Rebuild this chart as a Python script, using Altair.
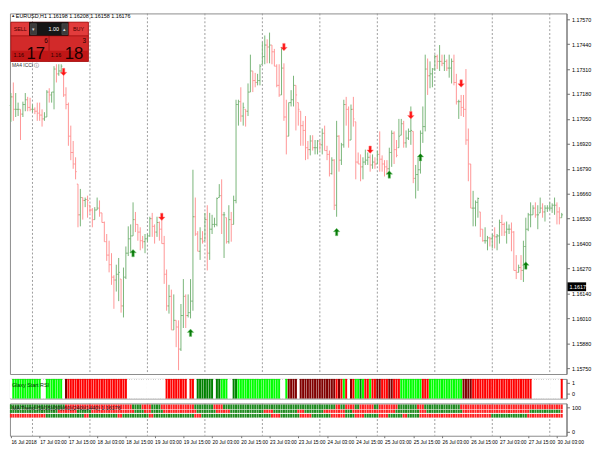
import altair as alt
import pandas as pd

FONT = "Liberation Sans"
NARROW = "Liberation Sans Narrow, Liberation Sans"

# ---------------- EURUSD H1 bars, prices in pips above 1.1500 ----------------
high_pips = [
    218.5, 224, 218.5, 213.5, 210, 214, 218.5, 216.5, 216, 212.5, 211, 213.5, 213.5, 210, 208.5, 220, 221, 219, 232.5, 233.5,
    233.5, 233.5, 230, 221.5, 213.5, 201.5, 193.5, 185,
    171, 168.5, 164, 164, 165, 160, 158.5, 159, 164, 162.5, 156, 151.5, 145, 141.5, 135, 123.5, 129, 132.5, 121.5, 127.5,
    138.5, 149, 150, 161.5, 156.5, 150, 148.5, 144, 145, 145,
    154, 156, 150, 154, 151.5, 152.5, 144, 126.5, 118.5, 116, 113.5, 100, 100, 108.5, 121.5, 113.5, 113.5, 121.5, 178.5, 164,
    146.5, 148.5, 146.5, 156, 160, 156, 155, 153.5, 164, 171, 173.5, 156.5, 153.5, 160, 156.5, 165, 215, 215, 221.5, 213.5,
    210, 223.5, 238.5, 230, 229, 228.5, 233.5, 245, 248.5, 246.5, 250, 243.5, 241.5, 233.5, 233.5, 242.5, 234, 215, 213.5, 220,
    227.5, 222.5, 213.5, 209, 204, 206.5, 193.5, 196.5, 196.5, 194, 194, 193.5, 200, 201.5, 191, 188.5, 185, 184, 204, 196.5,
    192.5, 215, 216.5, 211.5, 212.5, 216.5, 203.5, 187.5, 186.5, 185, 189, 187.5, 186.5, 186.5, 185, 188.5, 198.5, 186, 183.5, 183.5,
    190, 199, 198.5, 194, 205, 205, 204, 199, 200, 211.5, 198.5, 181, 185, 199, 211.5, 238.5,
    236.5, 235, 231.5, 238.5, 238.5, 243.5, 238.5, 238.5, 236, 238.5, 236.5, 238.5, 228.5, 215, 217.5, 217.5, 231, 200, 181.5, 167.5,
    162.5, 164, 156.5, 147.5, 148.5, 144, 143.5, 145, 148.5, 145, 152.5, 155, 151, 151.5, 150, 151, 146.5, 134, 129, 134,
    141.5, 153.5, 156, 161.5, 160, 161.5, 160, 164, 161, 160, 160, 161.5, 161, 164, 161.5, 159, 156,
]
low_pips = [
    203.5, 204, 206, 206.5, 194, 206, 209, 209, 209, 208.5, 207.5, 204, 204, 201, 204, 206, 213.5, 213.5, 210, 224,
    227.5, 228.5, 216.5, 210, 191, 183.5, 179, 173.5,
    148.5, 149, 152.5, 159, 153.5, 156, 148.5, 152.5, 157.5, 154, 151, 141, 131, 125, 118.5, 106, 115, 110, 104, 101.5,
    121.5, 133.5, 135, 144, 146, 141.5, 136.5, 137.5, 135, 141,
    143.5, 143.5, 140, 143.5, 141.5, 140, 119, 105, 103.5, 95, 95, 86, 74, 84, 96, 96, 101.5, 101, 105, 144,
    136, 131.5, 140, 141.5, 126, 131.5, 145, 148.5, 149, 164, 145, 132.5, 140, 140, 141, 150, 161, 201.5, 203.5, 201.5,
    201, 206.5, 219, 219, 221.5, 222.5, 222.5, 233.5, 233.5, 234, 234, 233.5, 232.5, 221.5, 216.5, 217.5, 204, 186.5, 196, 211.5,
    211.5, 199, 201.5, 191, 191, 183.5, 184, 186, 188.5, 186.5, 186.5, 188.5, 186.5, 188.5, 183.5, 175, 176, 157.5, 154, 177.5,
    181, 190, 201.5, 190, 194, 201, 173.5, 181.5, 172.5, 173.5, 181, 181, 177.5, 179, 179, 181.5, 177.5, 177.5, 175, 176,
    176.5, 180, 181.5, 185, 190, 196.5, 190, 190, 194, 191.5, 171.5, 163.5, 167.5, 176.5, 192.5, 198.5,
    217.5, 221, 221.5, 230, 231, 230, 232.5, 230, 230, 226.5, 223.5, 222.5, 212.5, 205, 206.5, 206, 191.5, 172.5, 158.5, 149,
    149, 153.5, 143.5, 141, 140, 136.5, 138.5, 137.5, 137.5, 136.5, 140, 144, 144, 140, 145, 136, 126, 121.5, 125, 121,
    120, 129, 146.5, 148.5, 155, 153.5, 147.5, 156, 153.5, 151.5, 156.5, 157.5, 156, 155, 150, 150, 153.5,
]
close_pips = [
    216.5, 210, 210, 210, 207.5, 212.5, 215, 211, 210, 210, 209, 208, 207, 205, 206, 219, 217.5, 219, 231, 228.5,
    230, 232.5, 217.5, 212.5, 196, 187.5, 181.5, 177.5,
    155, 164, 162.5, 163, 162.5, 157.5, 152.5, 157.5, 158.5, 156, 151, 141, 134, 129, 122.5, 121, 124, 125, 107.5, 122.5,
    135, 142.5, 144, 152.5, 150, 146, 141.5, 141, 142.5, 144,
    153, 149, 146, 151, 147.5, 140, 124, 107.5, 112.5, 95, 100, 96.5, 85, 102.5, 112.5, 102.5, 104, 110, 154, 145,
    136, 142.5, 141, 152.5, 135, 147.5, 150, 150, 163.5, 165, 155, 155, 141, 152.5, 150, 162.5, 212.5, 214, 206.5, 211,
    209, 219, 230, 225, 224, 225, 232.5, 237.5, 243.5, 242.5, 243.5, 240, 232.5, 222.5, 217.5, 231.5, 206, 196, 213.5, 215,
    222.5, 217.5, 210, 201.5, 199, 190, 189, 193.5, 190, 190, 193.5, 191.5, 197.5, 188.5, 186.5, 176.5, 183.5, 160, 196, 183.5,
    191.5, 212.5, 210, 194, 210, 205, 182.5, 181.5, 180, 182.5, 183.5, 185, 181, 182.5, 181.5, 186.5, 184, 181.5, 180, 179,
    187.5, 197.5, 189, 186, 196, 202.5, 192.5, 195, 198.5, 199, 174, 176, 178.5, 197.5, 201, 231,
    227.5, 228.5, 231, 237.5, 235, 235, 234, 235, 231.5, 231.5, 235, 224, 214, 214, 211, 210, 194, 181.5, 158.5, 158.5,
    161.5, 163.5, 147.5, 141.5, 141.5, 143, 142.5, 144, 143.5, 144, 151, 150, 146, 147.5, 147.5, 146, 126, 125, 127.5, 126,
    138.5, 147.5, 155, 155, 158.5, 155, 155, 158.5, 156.5, 158.5, 158.5, 158.5, 160, 160, 156.5, 153.5, 155,
]
first_open_pips = 212.0

# signal arrows: bar index and price (pips)
down_arrow_bar = [22, 63, 114, 150, 167, 188]
down_arrow_pips = [229.5, 154, 242.5, 189, 207, 223.5]
up_arrow_bar = [51, 75, 136, 158, 171, 215]
up_arrow_pips = [135, 93.5, 146, 176, 185, 128.5]

# price axis, time axis, day separators
price_ticks = [1.1575, 1.1588, 1.1601, 1.1614, 1.1627, 1.1640, 1.1653, 1.1666,
               1.1679, 1.1692, 1.1705, 1.1718, 1.1731, 1.1744, 1.1757]
current_price = 1.16175
time_labels = ["16 Jul 2018", "17 Jul 03:00", "17 Jul 15:00", "18 Jul 03:00", "18 Jul 15:00",
               "19 Jul 03:00", "19 Jul 15:00", "20 Jul 03:00", "20 Jul 15:00", "23 Jul 03:00",
               "23 Jul 15:00", "24 Jul 03:00", "24 Jul 15:00", "25 Jul 03:00", "25 Jul 15:00",
               "26 Jul 03:00", "26 Jul 15:00", "27 Jul 03:00", "27 Jul 15:00", "30 Jul 03:00"]
day_start_bars = [9, 33, 57, 81, 105, 129, 153, 177, 201, 225]

# ---------------- indicator states (run lengths) ----------------
rsi_runs = [("W", 1), ("G", 12), ("W", 2), ("G", 7), ("W", 1), ("K", 1), ("R", 25), ("W", 16), ("R", 9), ("W", 1),
            ("R", 2), ("W", 1), ("D", 7), ("W", 1), ("D", 2), ("G", 3), ("W", 2), ("D", 2), ("G", 18), ("W", 2),
            ("G", 1), ("K", 4), ("W", 1), ("K", 15), ("R", 1), ("K", 1), ("R", 1), ("G", 1), ("R", 1), ("W", 1),
            ("K", 1), ("R", 1), ("G", 2), ("D", 1), ("G", 1), ("R", 2), ("G", 1), ("R", 2), ("K", 2), ("R", 3),
            ("K", 2), ("R", 3), ("G", 9), ("R", 3), ("G", 14), ("K", 4), ("R", 25), ("W", 12), ("R", 1)]
trend_row1 = [("G", 23), ("R", 28), ("G", 4), ("R", 4), ("G", 4), ("R", 14), ("G", 8), ("R", 4), ("G", 47), ("R", 2),
              ("G", 2), ("R", 4), ("G", 2), ("R", 6), ("G", 2), ("R", 8), ("G", 8), ("R", 3), ("G", 15), ("R", 43)]
trend_row2 = [("G", 20), ("R", 8), ("G", 6), ("R", 18), ("G", 4), ("R", 3), ("G", 5), ("R", 14), ("G", 8), ("R", 6),
              ("G", 14), ("R", 4), ("G", 10), ("R", 3), ("G", 8), ("R", 9), ("G", 3), ("R", 18), ("G", 10), ("R", 3),
              ("G", 15), ("R", 28), ("G", 13), ("R", 1)]
trend_row3 = [("R", 15), ("G", 16), ("R", 2), ("G", 12), ("R", 2), ("G", 11), ("R", 2), ("G", 17), ("R", 3), ("G", 29),
              ("R", 4), ("G", 8), ("R", 5), ("G", 8), ("R", 6), ("G", 4), ("R", 4), ("G", 6), ("R", 4), ("G", 6),
              ("R", 2), ("G", 5), ("R", 30), ("G", 15), ("R", 15)]
trend_rows = [trend_row1, trend_row2, trend_row3]
trend_row_bands = [(92, 111), (77, 90), (58, 73)]

# ---------------- layout ----------------
W = 568
H_MAIN = 368
H_P1 = 20
H_P2 = 33
GREEN = "#78b478"
PINK = "#ff9494"


def to_price(p):
    return 1.15 + p / 10000.0


n = len(close_pips)
rows = []
prev = first_open_pips
for i in range(n):
    o = min(max(prev, low_pips[i]), high_pips[i])
    c = close_pips[i]
    rows.append({"i": i, "il": i - 0.48, "ir": i + 0.48,
                 "high": to_price(high_pips[i]), "low": to_price(low_pips[i]),
                 "open": to_price(o), "close": to_price(c),
                 "dir": "up" if c >= o else "down"})
    prev = c
bars = pd.DataFrame(rows)

xscale = alt.Scale(domain=[-0.4, 232.0], nice=False, zero=False)
yscale = alt.Scale(domain=[1.1572, 1.1760], nice=False, zero=False)
yaxis = alt.Axis(orient="right", values=price_ticks, format=".5f", title=None, tickSize=3,
                 labelPadding=2, grid=False)
col = alt.Color("dir:N", scale=alt.Scale(domain=["up", "down"], range=[GREEN, PINK]), legend=None)

label_expr = "[" + ",".join("'%s'" % s for s in time_labels) + "][round(datum.value/12)]"
x_time_axis = alt.Axis(values=list(range(0, 12 * len(time_labels), 12)), labelExpr=label_expr,
                       labelAlign="left", labelFlush=False, labelOverlap=False, tickSize=2,
                       labelPadding=2, domain=False, grid=False, title=None,
                       labelFont=NARROW, labelFontSize=5)

grid_df = pd.DataFrame({"i": day_start_bars})


def day_grid(axis=None):
    return alt.Chart(grid_df).mark_rule(strokeDash=[2, 2], color="#9c9c9c", strokeWidth=1).encode(
        x=alt.X("i:Q", scale=xscale, axis=axis))


hl = alt.Chart(bars).mark_rule(strokeWidth=1).encode(
    x=alt.X("i:Q", scale=xscale, axis=None),
    y=alt.Y("low:Q", scale=yscale, axis=yaxis), y2="high:Q", color=col)
op = alt.Chart(bars).mark_rule(strokeWidth=1).encode(
    x=alt.X("il:Q", scale=xscale, axis=None), x2="i:Q",
    y=alt.Y("open:Q", scale=yscale, axis=yaxis), color=col)
cl = alt.Chart(bars).mark_rule(strokeWidth=1).encode(
    x=alt.X("i:Q", scale=xscale, axis=None), x2="ir:Q",
    y=alt.Y("close:Q", scale=yscale, axis=yaxis), color=col)

ARROW = "M0,-1 L0.85,-0.1 L0.32,-0.1 L0.32,0.95 L-0.32,0.95 L-0.32,-0.1 L-0.85,-0.1 Z"
down_df = pd.DataFrame({"i": down_arrow_bar, "p": [to_price(v) for v in down_arrow_pips]})
up_df = pd.DataFrame({"i": up_arrow_bar, "p": [to_price(v) for v in up_arrow_pips]})
down_pts = alt.Chart(down_df).mark_point(shape=ARROW, filled=True, size=60, angle=180, color="#ff1414",
                                         opacity=1, stroke="#ff8080", strokeWidth=0.5).encode(
    x=alt.X("i:Q", scale=xscale, axis=None), y=alt.Y("p:Q", scale=yscale, axis=yaxis))
up_pts = alt.Chart(up_df).mark_point(shape=ARROW, filled=True, size=60, color="#0a7a0a",
                                     opacity=1, stroke="#7fcf7f", strokeWidth=0.5).encode(
    x=alt.X("i:Q", scale=xscale, axis=None), y=alt.Y("p:Q", scale=yscale, axis=yaxis))

cur_df = pd.DataFrame({"p": [current_price], "top": [current_price + 0.00023],
                       "bot": [current_price - 0.00023], "t": ["%.5f" % current_price]})
cur_box = alt.Chart(cur_df).mark_rect(color="#000000").encode(
    x=alt.value(W + 1), x2=alt.value(W + 20),
    y=alt.Y("top:Q", scale=yscale, axis=yaxis), y2="bot:Q")
cur_txt = alt.Chart(cur_df).mark_text(color="white", fontSize=5.5, align="left", baseline="middle",
                                      font=FONT).encode(
    x=alt.value(W + 3), y=alt.Y("p:Q", scale=yscale, axis=yaxis), text="t:N")

ONE = pd.DataFrame({"k": [0]})


def box(x0, x1, y0, y1, fill, stroke=None, sw=0.6):
    return alt.Chart(ONE).mark_rect(fill=fill, stroke=stroke or fill, strokeWidth=sw).encode(
        x=alt.value(x0), x2=alt.value(x1), y=alt.value(y0), y2=alt.value(y1))


def label(x, y, s, size=5.5, color="#000000", align="left", baseline="middle", font=FONT, weight="normal"):
    return alt.Chart(ONE).mark_text(fontSize=size, color=color, align=align, baseline=baseline,
                                    font=font, fontWeight=weight).encode(
        x=alt.value(x), y=alt.value(y), text=alt.value(s))


decor = [
    label(1, 3, "▲", size=4.5, color="#333333"),
    label(6, 3, "EURUSD,H1  1.16198 1.16208 1.16158 1.16176", size=5.5),
    box(1, 80, 9, 49, "#c81c1c", "#9a0c0c"),
    box(1, 20, 9, 23, "#e23c3c", "#a01010"),
    label(10.5, 16, "SELL", size=5.5, color="#4a0000", align="center"),
    box(20, 60, 9, 23, "#161616", "#000000"),
    box(21, 27, 10.5, 21.5, "#3c3c3c", "#555555"),
    label(24, 16, "▾", size=5, color="#dddddd", align="center"),
    box(53, 59, 10.5, 21.5, "#3c3c3c", "#555555"),
    label(56, 16, "▴", size=5, color="#dddddd", align="center"),
    label(50, 16, "1.00", size=5.5, color="#ffffff", align="right"),
    box(60, 80, 9, 23, "#e23c3c", "#a01010"),
    label(70, 16, "BUY", size=5.5, color="#4a0000", align="center"),
    box(1, 40, 23, 49, "#d22a2a", "#a01010"),
    box(40, 80, 23, 49, "#d22a2a", "#a01010"),
    box(1.5, 39.5, 38, 48.5, "#c01616", "#c01616", 0),
    box(40.5, 79.5, 38, 48.5, "#c01616", "#c01616", 0),
    label(9, 42, "1.16", size=5.5, color="#2a0000", align="center"),
    label(17, 46, "17", size=17, color="#1a0000", baseline="alphabetic", font=NARROW),
    label(35, 25, "6", size=6.5, color="#1a0000", baseline="top"),
    label(47, 42, "1.16", size=5.5, color="#2a0000", align="center"),
    label(56, 46, "18", size=17, color="#1a0000", baseline="alphabetic", font=NARROW),
    label(74, 25, "3", size=6.5, color="#1a0000", baseline="top"),
    label(2, 53, "MA4 ICCI  ⓘ", size=5, color="#333333"),
]

main = alt.layer(day_grid(), hl, op, cl, down_pts, up_pts, cur_box, cur_txt, *decor).properties(
    width=W, height=H_MAIN)


# ---------------- panel 1: Glaxy Start RSI ----------------
def expand(runs):
    out = []
    for s, k in runs:
        out.extend([s] * k)
    return out


rsi_states = expand(rsi_runs)
p1_df = pd.DataFrame({"i": range(len(rsi_states)), "state": rsi_states})
p1_df["il"] = p1_df["i"] - 0.42
p1_df["ir"] = p1_df["i"] + 0.42
p1_y = alt.Scale(domain=[-0.45, 1.36], nice=False, zero=False)
p1_axis = alt.Axis(orient="right", values=[0, 1], format="d", title=None, tickSize=3, labelPadding=2, grid=False)
p1_rects = alt.Chart(p1_df).transform_calculate(lo="-0.45", hi="1.36").mark_rect().encode(
    x=alt.X("il:Q", scale=xscale, axis=None), x2="ir:Q",
    y=alt.Y("lo:Q", scale=p1_y, axis=p1_axis), y2="hi:Q",
    color=alt.Color("state:N", scale=alt.Scale(domain=["W", "G", "D", "R", "K"],
                                               range=["#ffffff", "#00ff00", "#008000", "#ff0000", "#800000"]),
                    legend=None))
p1_label = label(2, 6, "Glaxy Start RSI", size=5.5, color="#003300")
p1 = alt.layer(day_grid(), p1_rects, p1_label).properties(width=W, height=H_P1)

# ---------------- panel 2: MA trend rows ----------------
p2_rows = []
for r, runs in enumerate(trend_rows):
    lo, hi = trend_row_bands[r]
    for i, s in enumerate(expand(runs)):
        p2_rows.append({"i": i, "il": i - 0.42, "ir": i + 0.42, "lo": lo, "hi": hi, "state": s})
p2_df = pd.DataFrame(p2_rows)
p2_y = alt.Scale(domain=[-15.4, 115.4], nice=False, zero=False)
p2_axis = alt.Axis(orient="right", values=[0, 100], format="d", title=None, tickSize=3, labelPadding=2, grid=False)
p2_rects = alt.Chart(p2_df).mark_rect().encode(
    x=alt.X("il:Q", scale=xscale, axis=x_time_axis), x2="ir:Q",
    y=alt.Y("lo:Q", scale=p2_y, axis=p2_axis), y2="hi:Q",
    color=alt.Color("state:N", scale=alt.Scale(domain=["G", "R"], range=["#1f8a1f", "#ff2222"]), legend=None))
p2_label = label(2, 4.5, "MA Trend  (5)(15)(30)(60)(240)(1440)  1.16176", size=5.5, color="#222222")
p2 = alt.layer(day_grid(x_time_axis), p2_rects, p2_label).properties(width=W, height=H_P2)

chart = alt.vconcat(main, p1, p2, spacing=3).resolve_scale(
    color="independent", x="independent", y="independent"
).properties(
    padding={"left": 0, "top": 0, "right": 0, "bottom": 0}, background="white"
).configure_view(stroke="#8a8a8a", strokeWidth=1).configure_axis(
    labelFont=FONT, labelFontSize=5.5, labelColor="#000000", domainColor="#707070", tickColor="#707070"
)

chart.save("out.html", embed_options={"renderer": "svg", "actions": False})
